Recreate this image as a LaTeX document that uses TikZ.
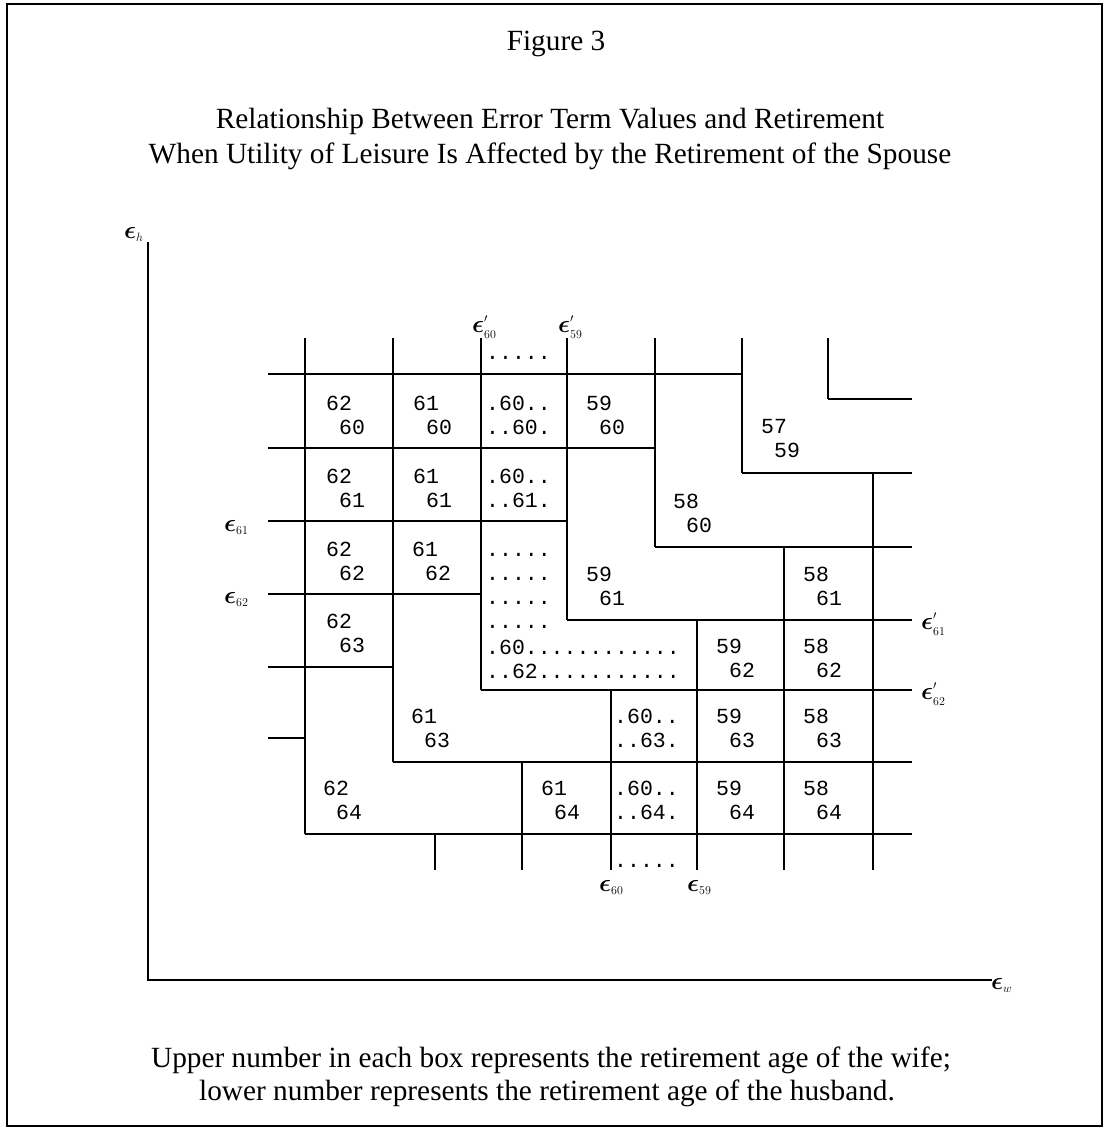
\documentclass[tikz,border=0pt]{standalone}
\usepackage{amsmath}
\usepackage{fontspec}
\setmainfont{Liberation Serif}
\newfontfamily\monof{Liberation Mono}
\newcommand{\digsp}{\hphantom{0}}
\newcommand{\cellpair}[5]{\node[num] (#1u) at (#2,#3) {#4}; \node[num] (#1l) at (#2,#3+24.5) {#5};}
\newcommand{\epsl}[2]{$\boldsymbol{\epsilon}#1_{\scriptscriptstyle #2}$}
\begin{document}
\begin{tikzpicture}[x=1pt,y=-1pt,
 grid/.style={line width=1.5pt},
 num/.style={font=\monof\fontsize{21.5}{24}\selectfont, anchor=base west, inner sep=0pt},
 ttl/.style={font=\fontsize{29.3}{32}\selectfont, anchor=base, inner sep=0pt},
 lab/.style={font=\fontsize{24}{26}\selectfont, anchor=base west, inner sep=0pt}]
\useasboundingbox (0,0) rectangle (1105,1130);
\draw[line width=2pt] (7,4) rectangle (1102,1126);
% titles
\node[ttl] (t1) at (556,50) {Figure 3};
\node[ttl] (t2) at (550,128) {Relationship Between Error Term Values and Retirement};
\node[ttl] (t3) at (550,163) {When Utility of Leisure Is Affected by the Retirement of the Spouse};
\node[ttl] (c1) at (551,1067) {Upper number in each box represents the retirement age of the wife;};
\node[ttl] (c2) at (547,1100) {lower number represents the retirement age of the husband.};
% axes
\draw[line width=1.3pt] (148,242) -- (148,980) -- (992,980);
\node[lab] (eh) at (124,238) {\epsl{}{h}};
\node[lab] (ew) at (991,989) {\epsl{}{w}};
% grid
\begin{scope}[grid]
\draw (268,374) -- (742,374);
\draw (268,448) -- (655,448);
\draw (268,521) -- (567,521);
\draw (268,594) -- (481,594);
\draw (268,667) -- (393,667);
\draw (268,738) -- (305,738);
\draw (828,399) -- (912,399);
\draw (742,473) -- (912,473);
\draw (655,547) -- (912,547);
\draw (567,620) -- (912,620);
\draw (481,690) -- (912,690);
\draw (393,762) -- (912,762);
\draw (305,834) -- (912,834);
\draw (305,338) -- (305,834);
\draw (393,338) -- (393,762);
\draw (481,338) -- (481,690);
\draw (567,338) -- (567,620);
\draw (655,338) -- (655,547);
\draw (742,338) -- (742,473);
\draw (828,338) -- (828,399);
\draw (873,473) -- (873,870);
\draw (784,547) -- (784,870);
\draw (697,620) -- (697,870);
\draw (611,690) -- (611,870);
\draw (522,762) -- (522,870);
\draw (435,834) -- (435,870);
\end{scope}
% epsilon labels
\node[lab] (e60p) at (472,332) {\epsl{^{\scriptscriptstyle\prime}}{60}};
\node[lab] (e59p) at (558,332) {\epsl{^{\scriptscriptstyle\prime}}{59}};
\node[lab] (e61) at (224,531) {\epsl{}{61}};
\node[lab] (e62) at (224,603) {\epsl{}{62}};
\node[lab] (e61p) at (921,629) {\epsl{^{\scriptscriptstyle\prime}}{61}};
\node[lab] (e62p) at (921,699) {\epsl{^{\scriptscriptstyle\prime}}{62}};
\node[lab] (e60) at (599,891) {\epsl{}{60}};
\node[lab] (e59) at (687,891) {\epsl{}{59}};
% cells
\node[num] (topdots) at (486,359) {.....};
\cellpair{a1}{326}{410}{62}{\digsp60}
\cellpair{a2}{413}{410}{61}{\digsp60}
\cellpair{a3}{486}{410}{.60..}{..60.}
\cellpair{a4}{586}{410}{59}{\digsp60}
\cellpair{k57}{761}{433}{57}{\digsp59}
\cellpair{b1}{326}{483}{62}{\digsp61}
\cellpair{b2}{413}{483}{61}{\digsp61}
\cellpair{b3}{486}{483}{.60..}{..61.}
\cellpair{k58}{673}{508}{58}{\digsp60}
\cellpair{c1}{326}{556}{62}{\digsp62}
\cellpair{c2}{412}{556}{61}{\digsp62}
\cellpair{c3}{486}{556}{.....}{.....}
\cellpair{d59}{586}{581}{59}{\digsp61}
\cellpair{d58}{803}{581}{58}{\digsp61}
\cellpair{e3}{486}{604}{.....}{.....}
\cellpair{e4}{486}{654}{.60............}{..62...........}
\cellpair{f1}{326}{628}{62}{\digsp63}
\cellpair{g59}{716}{653}{59}{\digsp62}
\cellpair{g58}{803}{653}{58}{\digsp62}
\cellpair{h61}{411}{723}{61}{\digsp63}
\cellpair{h60}{614}{723}{.60..}{..63.}
\cellpair{h59}{716}{723}{59}{\digsp63}
\cellpair{h58}{803}{723}{58}{\digsp63}
\cellpair{i62}{323}{795}{62}{\digsp64}
\cellpair{i61}{541}{795}{61}{\digsp64}
\cellpair{i60}{614}{795}{.60..}{..64.}
\cellpair{i59}{716}{795}{59}{\digsp64}
\cellpair{i58}{803}{795}{58}{\digsp64}
\node[num] (botdots) at (614,867) {.....};
\end{tikzpicture}
\end{document}
